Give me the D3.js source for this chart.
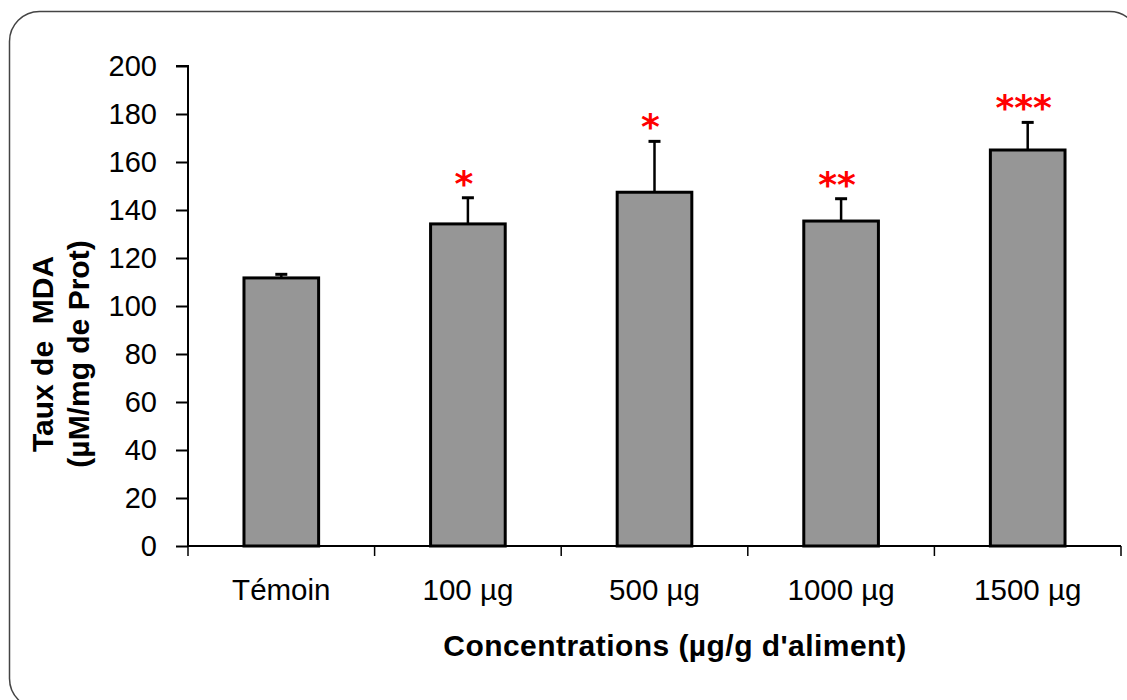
<!DOCTYPE html>
<html>
<head>
<meta charset="utf-8">
<script src="https://cdn.jsdelivr.net/npm/d3@7"></script>
<style>
  body { margin: 0; background: #fff; }
  svg { display: block; font-family: "Liberation Sans", Arial, sans-serif; }
</style>
</head>
<body>
<div id="chart"></div>
<script>
// data
const categories = ["Témoin", "100 µg", "500 µg", "1000 µg", "1500 µg"];
const means = [111.7, 134.2, 147.4, 135.4, 165.0];
const errors = [1.5, 10.9, 21.2, 9.3, 11.5];
const stars = ["", "*", "*", "**", "***"];
const yTicks = [0, 20, 40, 60, 80, 100, 120, 140, 160, 180, 200];

const W = 1127, H = 700;
const margin = { top: 66, right: 6, bottom: 154, left: 188 };
const width = W - margin.left - margin.right;
const height = H - margin.top - margin.bottom;

const svg = d3.select("#chart").append("svg")
    .attr("width", W)
    .attr("height", H);

// rounded frame around the whole chart
svg.append("rect")
  .attr("x", 9.5).attr("y", 11.5)
  .attr("width", 1130).attr("height", 697)
  .attr("rx", 30).attr("ry", 30)
  .attr("fill", "none")
  .attr("stroke", "#444")
  .attr("stroke-width", 1.5);

const g = svg.append("g")
  .attr("transform", `translate(${margin.left},${margin.top})`);

const x = d3.scaleBand()
  .domain(categories)
  .range([0, width])
  .paddingInner(0.6)
  .paddingOuter(0.3);

const y = d3.scaleLinear()
  .domain([0, 200])
  .range([height, 0]);

// y axis
const yAxis = g.append("g")
  .call(d3.axisLeft(y).tickValues(yTicks).tickSize(12).tickPadding(19));
yAxis.select(".domain").attr("stroke-width", 2).attr("d", `M0,${height}V0H-12`);
yAxis.selectAll(".tick line").attr("stroke-width", 2);
yAxis.selectAll(".tick text")
  .attr("font-size", 29)
  .attr("fill", "#000")
  .attr("dy", "0.34em");

// x axis: ticks between categories
const xg = g.append("g").attr("transform", `translate(0,${height})`);
xg.append("line")
  .attr("x1", 0).attr("x2", width)
  .attr("stroke", "#000").attr("stroke-width", 2);
xg.selectAll(".xtick")
  .data(d3.range(categories.length + 1))
  .join("line")
  .attr("class", "xtick")
  .attr("x1", i => i * x.step())
  .attr("x2", i => i * x.step())
  .attr("y1", 0).attr("y2", 10)
  .attr("stroke", "#000").attr("stroke-width", 1.5);
xg.selectAll(".xlabel")
  .data(categories)
  .join("text")
  .attr("class", "xlabel")
  .attr("x", d => x(d) + x.bandwidth() / 2)
  .attr("y", 54)
  .attr("text-anchor", "middle")
  .attr("font-size", 29.5)
  .text(d => d);

// bars
const data = categories.map((c, i) => ({ c, m: means[i], e: errors[i], s: stars[i] }));

// error bars (drawn first so the bar outline covers the base)
g.selectAll(".err")
  .data(data)
  .join("line")
  .attr("class", "err")
  .attr("x1", d => x(d.c) + x.bandwidth() / 2)
  .attr("x2", d => x(d.c) + x.bandwidth() / 2)
  .attr("y1", d => y(d.m))
  .attr("y2", d => y(d.m + d.e))
  .attr("stroke", "#000").attr("stroke-width", 2.5);
g.selectAll(".cap")
  .data(data)
  .join("line")
  .attr("class", "cap")
  .attr("x1", d => x(d.c) + x.bandwidth() / 2 - 6)
  .attr("x2", d => x(d.c) + x.bandwidth() / 2 + 6)
  .attr("y1", d => y(d.m + d.e))
  .attr("y2", d => y(d.m + d.e))
  .attr("stroke", "#000").attr("stroke-width", 3);

g.selectAll(".bar")
  .data(data)
  .join("rect")
  .attr("class", "bar")
  .attr("x", d => x(d.c))
  .attr("y", d => y(d.m))
  .attr("width", x.bandwidth())
  .attr("height", d => height - y(d.m))
  .attr("fill", "#969696")
  .attr("stroke", "#000")
  .attr("stroke-width", 3);

// significance stars
g.selectAll(".star")
  .data(data.filter(d => d.s))
  .join("text")
  .attr("class", "star")
  .attr("x", d => x(d.c) + x.bandwidth() / 2 - 4)
  .attr("y", d => y(d.m + d.e) - 2)
  .attr("text-anchor", "middle")
  .attr("font-family", "'DejaVu Sans', sans-serif")
  .attr("font-weight", "bold")
  .attr("font-size", 36)
  .attr("fill", "#ff0000")
  .text(d => d.s);

// axis titles
svg.append("text")
  .attr("x", 675)
  .attr("y", 656)
  .attr("text-anchor", "middle")
  .attr("font-size", 30)
  .attr("letter-spacing", 0.45)
  .attr("font-weight", "bold")
  .text("Concentrations (µg/g d'aliment)");

const yt = svg.append("text")
  .attr("transform", "translate(0,354) rotate(-90)")
  .attr("text-anchor", "middle")
  .attr("font-size", 30)
  .attr("font-weight", "bold")
  .style("white-space", "pre");
yt.append("tspan").attr("x", 0).attr("y", 53).text("Taux de  MDA");
yt.append("tspan").attr("x", 0).attr("y", 89).text("(µM/mg de Prot)");
</script>
</body>
</html>
